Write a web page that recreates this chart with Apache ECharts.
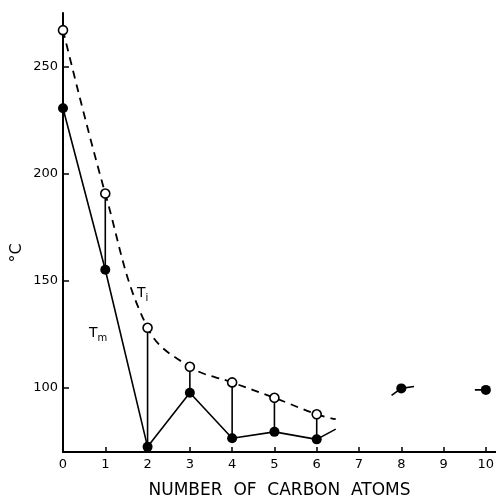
<!DOCTYPE html>
<html><head><meta charset="utf-8">
<script src="https://cdn.jsdelivr.net/npm/echarts@6/dist/echarts.min.js"></script>
<style>html,body{margin:0;padding:0;background:#fff}#c{width:496px;height:499px}</style>
</head><body><div id="c"></div>
<script>
// Data
const carbonAtoms = [0, 1, 2, 3, 4, 5, 6];
const tiValues = [267, 190.7, 128, 109.8, 102.5, 95.3, 87.6];   // T_i (open circles)
const tmValues = [230.5, 155.1, 72.4, 97.7, 76.4, 79.4, 75.9];  // T_m (filled circles)
const tiCurveEnd = [6.45, 85.3];
const tmLineEnd = [6.45, 80.7];
const tmExtraAtoms = [8, 10];
const tmExtraValues = [99.7, 99];
const seg8 = [[7.77, 96.4], [8, 99.7], [8.3, 100.6]];
const seg10 = [[9.74, 99], [10, 99]];
const xTickLabels = [0, 1, 2, 3, 4, 5, 6, 7, 8, 9, 10];
const yTickLabels = [100, 150, 200, 250];

const tiPts = carbonAtoms.map((x, i) => [x, tiValues[i]]);
const tmPts = carbonAtoms.map((x, i) => [x, tmValues[i]]);
const tmAll = tmPts.concat(tmExtraAtoms.map((x, i) => [x, tmExtraValues[i]]));
const drops = carbonAtoms.slice(1).map((x, i) => [x, tmValues[i + 1], tiValues[i + 1]]);

const FONT = 'DejaVu Sans';
const chart = echarts.init(document.getElementById('c'), null, {renderer: 'canvas'});
chart.setOption({
  animation: false,
  backgroundColor: '#fff',
  grid: {left: 63, right: 0, top: 13, bottom: 47, containLabel: false, outerBoundsMode: 'none'},
  xAxis: {
    type: 'value', min: 0, max: 10.24,
    name: 'NUMBER  OF  CARBON  ATOMS', nameLocation: 'middle', nameGap: 30,
    nameTextStyle: {fontFamily: FONT, fontSize: 17, color: '#000'},
    axisLine: {lineStyle: {color: '#000', width: 2}},
    axisTick: {inside: true, length: 5, lineStyle: {color: '#000', width: 1.5}, customValues: xTickLabels},
    axisLabel: {fontFamily: FONT, fontSize: 13, color: '#000', margin: 6, customValues: xTickLabels},
    splitLine: {show: false}
  },
  yAxis: {
    type: 'value', min: 70, max: 275,
    axisLine: {show: true, lineStyle: {color: '#000', width: 2}},
    axisTick: {show: true, inside: true, length: 6, lineStyle: {color: '#000', width: 1.5}, customValues: yTickLabels},
    axisLabel: {fontFamily: FONT, fontSize: 13, color: '#000', margin: 5, customValues: yTickLabels},
    splitLine: {show: false}
  },
  graphic: [
    {type: 'text', x: 17, y: 253, rotation: Math.PI / 2,
     style: {text: '°C', font: '16px "DejaVu Sans"', fill: '#000', align: 'center', verticalAlign: 'middle'}},
    {type: 'text', x: 137, y: 284,
     style: {text: '{b|T}{s|i}', fill: '#000',
       rich: {b: {fontFamily: FONT, fontSize: 14, fill: '#000'}, s: {fontFamily: FONT, fontSize: 10, padding: [9, 0, 0, 0], fill: '#000'}}}},
    {type: 'text', x: 89, y: 324,
     style: {text: '{b|T}{s|m}', fill: '#000',
       rich: {b: {fontFamily: FONT, fontSize: 14, fill: '#000'}, s: {fontFamily: FONT, fontSize: 10, padding: [9, 0, 0, 0], fill: '#000'}}}}
  ],
  series: [
    {type: 'line', data: tiPts.concat([tiCurveEnd]), smooth: 0.4, symbol: 'none', z: 2,
     lineStyle: {color: '#000', width: 1.8, type: [8, 6]}},
    {type: 'line', data: tmPts.concat([tmLineEnd]), symbol: 'none', z: 2,
     lineStyle: {color: '#000', width: 1.6}},
    {type: 'line', data: seg8, symbol: 'none', z: 2, lineStyle: {color: '#000', width: 1.6}},
    {type: 'line', data: seg10, symbol: 'none', z: 2, lineStyle: {color: '#000', width: 1.6}},
    {type: 'custom', data: drops, z: 2,
     renderItem: function (params, api) {
       const a = api.coord([api.value(0), api.value(1)]);
       const b = api.coord([api.value(0), api.value(2)]);
       return {type: 'line', shape: {x1: a[0], y1: a[1], x2: b[0], y2: b[1]},
               style: {stroke: '#000', lineWidth: 1.6}};
     }},
    {type: 'scatter', data: tmAll, symbol: 'circle', symbolSize: 10, z: 4,
     itemStyle: {color: '#000', opacity: 1}},
    {type: 'scatter', data: tiPts, symbol: 'circle', symbolSize: 9, z: 5,
     itemStyle: {color: '#fff', borderColor: '#000', borderWidth: 1.6, opacity: 1}}
  ]
});
</script></body></html>
